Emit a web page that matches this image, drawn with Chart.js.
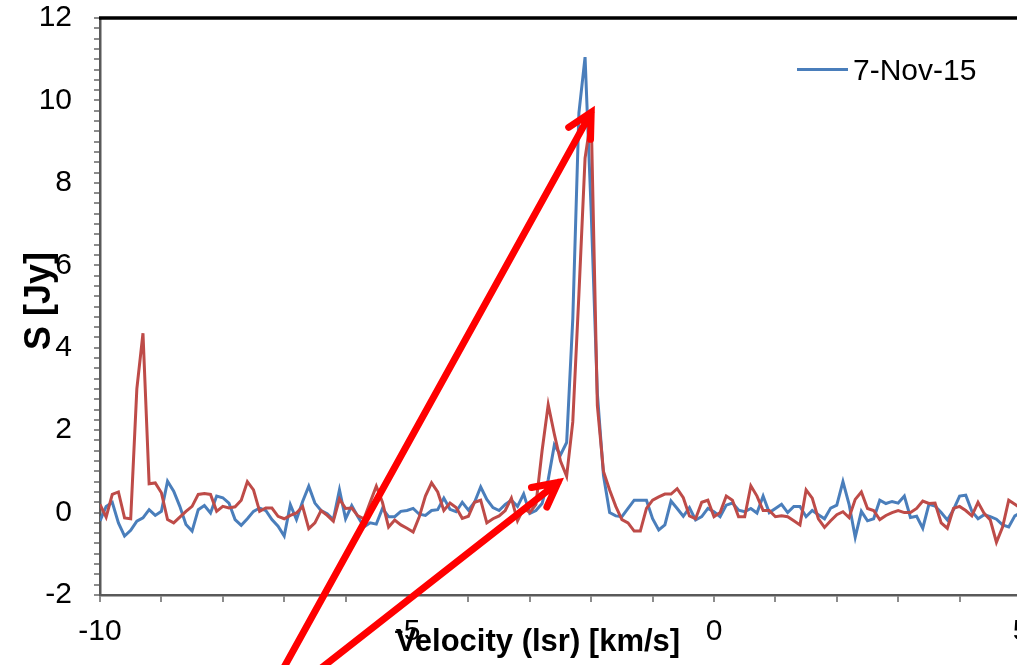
<!DOCTYPE html>
<html>
<head>
<meta charset="utf-8">
<script src="https://cdn.jsdelivr.net/npm/chart.js@4.4.1/dist/chart.umd.min.js"></script>
<style>
  html, body { margin: 0; padding: 0; overflow: hidden; background: #fff; }
  #wrap { width: 1040px; height: 665px; }
</style>
</head>
<body>
<div id="wrap"><canvas id="spec" width="1040" height="665"></canvas></div>
<script>
// velocity channels (km/s)
const velocity = [
  -10.0, -9.9, -9.8, -9.7, -9.6, -9.5, -9.4, -9.3, -9.2, -9.1,
  -9.0, -8.9, -8.8, -8.7, -8.6, -8.5, -8.4, -8.3, -8.2, -8.1,
  -8.0, -7.9, -7.8, -7.7, -7.6, -7.5, -7.4, -7.3, -7.2, -7.1,
  -7.0, -6.9, -6.8, -6.7, -6.6, -6.5, -6.4, -6.3, -6.2, -6.1,
  -6.0, -5.9, -5.8, -5.7, -5.6, -5.5, -5.4, -5.3, -5.2, -5.1,
  -5.0, -4.9, -4.8, -4.7, -4.6, -4.5, -4.4, -4.3, -4.2, -4.1,
  -4.0, -3.9, -3.8, -3.7, -3.6, -3.5, -3.4, -3.3, -3.2, -3.1,
  -3.0, -2.9, -2.8, -2.7, -2.6, -2.5, -2.4, -2.3, -2.2, -2.1,
  -2.0, -1.9, -1.8, -1.7, -1.6, -1.5, -1.4, -1.3, -1.2, -1.1,
  -1.0, -0.9, -0.8, -0.7, -0.6, -0.5, -0.4, -0.3, -0.2, -0.1,
  0.0, 0.1, 0.2, 0.3, 0.4, 0.5, 0.6, 0.7, 0.8, 0.9,
  1.0, 1.1, 1.2, 1.3, 1.4, 1.5, 1.6, 1.7, 1.8, 1.9,
  2.0, 2.1, 2.2, 2.3, 2.4, 2.5, 2.6, 2.7, 2.8, 2.9,
  3.0, 3.1, 3.2, 3.3, 3.4, 3.5, 3.6, 3.7, 3.8, 3.9,
  4.0, 4.1, 4.2, 4.3, 4.4, 4.5, 4.6, 4.7, 4.8, 4.9,
  5.0
];

// flux density (Jy), 7-Nov-15
const fluxNov = [
  -0.2, 0.15, 0.25, -0.25, -0.57, -0.43, -0.21, -0.13, 0.07, -0.07,
  0.03, 0.76, 0.52, 0.15, -0.29, -0.45, 0.07, 0.17, -0.01, 0.4,
  0.36, 0.23, -0.17, -0.31, -0.15, 0.03, 0.11, 0.05, -0.17, -0.33,
  -0.57, 0.19, -0.17, 0.27, 0.64, 0.23, 0.05, -0.03, -0.17, 0.55,
  -0.15, 0.17, -0.1, -0.35, -0.25, -0.28, 0.1, -0.1, -0.1, 0.03,
  0.05, 0.1, -0.04, -0.07, 0.05, 0.07, 0.35, 0.08, 0.02, 0.25,
  0.06, 0.25, 0.62, 0.32, 0.12, 0.05, 0.2, 0.3, 0.15, 0.45,
  -0.02, 0.05, 0.22, 0.8, 1.64, 1.4, 1.7, 4.7, 9.7, 11.05,
  7.3, 2.9, 0.9, 0.0, -0.08, -0.1, 0.1, 0.3, 0.3, 0.3,
  -0.15, -0.42, -0.3, 0.28, 0.1, -0.09, 0.12, -0.18, -0.1, 0.1,
  0.02, -0.1, 0.18, 0.23, 0.06, 0.02, 0.1, -0.01, 0.4, 0.0,
  0.1, 0.2, 0.0, 0.15, 0.15, -0.1, 0.05, -0.05, -0.15, 0.11,
  0.18, 0.75, 0.2, -0.6, 0.03, -0.2, -0.15, 0.3, 0.22, 0.27,
  0.23, 0.4, -0.12, -0.09, -0.38, 0.2, 0.16, 0.0, -0.18, 0.07,
  0.4, 0.42, 0.03, -0.15, -0.05, -0.1, -0.16, -0.3, -0.35, -0.08,
  0.0
];

// flux density (Jy), second epoch (red)
const fluxOther = [
  0.2, -0.11, 0.44, 0.5, -0.13, -0.15, 3.0, 4.35, 0.7, 0.72,
  0.48, -0.17, -0.25, -0.11, 0.03, 0.15, 0.44, 0.46, 0.44, 0.03,
  0.15, 0.11, 0.14, 0.3, 0.75, 0.55, 0.03, 0.11, 0.11, -0.09,
  -0.15, -0.07, -0.01, 0.15, -0.39, -0.25, 0.05, -0.07, -0.21, 0.33,
  0.1, 0.11, -0.08, -0.15, 0.25, 0.64, 0.25, -0.35, -0.18, -0.3,
  -0.38, -0.47, -0.1, 0.4, 0.72, 0.5, 0.05, 0.23, 0.12, -0.14,
  -0.09, 0.25, 0.3, -0.25, -0.15, -0.08, 0.05, 0.35, -0.2, 0.1,
  0.0, 0.2, 1.5, 2.62, 1.9, 1.25, 0.88, 2.2, 5.3, 8.6,
  9.6, 2.6, 1.0, 0.55, 0.15, -0.17, -0.25, -0.45, -0.45, 0.1,
  0.3, 0.38, 0.45, 0.45, 0.58, 0.36, -0.08, -0.15, 0.25, 0.3,
  -0.1, 0.0, 0.4, 0.3, -0.1, -0.1, 0.65, 0.4, 0.05, 0.05,
  -0.1, -0.08, -0.1, -0.2, -0.3, 0.55, 0.35, -0.15, -0.36, -0.2,
  -0.05, 0.02, -0.12, 0.32, 0.5, 0.1, 0.05, -0.17, -0.07, 0.0,
  0.05, 0.0, 0.0, 0.1, 0.28, 0.22, 0.23, -0.25, -0.38, 0.1,
  0.15, 0.05, -0.08, 0.25, -0.02, -0.18, -0.72, -0.35, 0.3, 0.2,
  0.1
];

const legendLabel = '7-Nov-15';
const xTitle = 'Velocity (lsr) [km/s]';
const yTitle = 'S [Jy]';

// red annotation arrows, tail -> tip, in data units
const arrows = [
  { from: [-7.02, -3.8], to: [-2.0, 9.71] },
  { from: [-6.42, -3.8], to: [-2.54, 0.73] }
];

const BLUE = '#4a7ebb';
const RED = '#be4b48';
const FONT = '"Liberation Sans", Arial, sans-serif';

Chart.defaults.font.family = FONT;
Chart.defaults.color = '#000';

function pts(ys) {
  return velocity.map((v, i) => ({ x: v, y: ys[i] }));
}

const decor = {
  id: 'decor',
  afterDraw(chart) {
    const { ctx, chartArea: a, scales: { x, y } } = chart;
    ctx.save();

    // black top edge of plot area
    ctx.strokeStyle = '#000';
    ctx.lineWidth = 3.5;
    ctx.beginPath();
    ctx.moveTo(a.left - 1, a.top);
    ctx.lineTo(chart.width, a.top);
    ctx.stroke();

    // legend
    ctx.strokeStyle = BLUE;
    ctx.lineWidth = 3;
    ctx.beginPath();
    ctx.moveTo(797, 69.5);
    ctx.lineTo(848, 69.5);
    ctx.stroke();
    ctx.fillStyle = '#000';
    ctx.font = '30px ' + FONT;
    ctx.textAlign = 'left';
    ctx.textBaseline = 'alphabetic';
    ctx.fillText(legendLabel, 853, 80);

    // axis titles
    ctx.font = 'bold 31px ' + FONT;
    ctx.textAlign = 'center';
    ctx.fillText(xTitle, 538, 651);
    ctx.save();
    ctx.translate(50, 301);
    ctx.rotate(-Math.PI / 2);
    ctx.font = 'bold 36px ' + FONT;
    ctx.fillText(yTitle, 0, 0);
    ctx.restore();

    // arrows
    ctx.strokeStyle = '#ff0000';
    ctx.lineWidth = 7;
    ctx.lineCap = 'round';
    arrows.forEach(ar => {
      const x0 = x.getPixelForValue(ar.from[0]), y0 = y.getPixelForValue(ar.from[1]);
      const x1 = x.getPixelForValue(ar.to[0]), y1 = y.getPixelForValue(ar.to[1]);
      const ang = Math.atan2(y0 - y1, x0 - x1);
      const len = 27, spread = 0.48;
      ctx.beginPath();
      ctx.moveTo(x0, y0);
      ctx.lineTo(x1, y1);
      ctx.moveTo(x1 + len * Math.cos(ang - spread), y1 + len * Math.sin(ang - spread));
      ctx.lineTo(x1, y1);
      ctx.lineTo(x1 + len * Math.cos(ang + spread), y1 + len * Math.sin(ang + spread));
      ctx.stroke();
    });
    ctx.restore();
  }
};

new Chart(document.getElementById('spec').getContext('2d'), {
  type: 'line',
  data: {
    datasets: [
      { label: legendLabel, data: pts(fluxNov), borderColor: BLUE, borderWidth: 3,
        pointRadius: 0, tension: 0, fill: false, order: 1 },
      { label: 'other', data: pts(fluxOther), borderColor: RED, borderWidth: 3,
        pointRadius: 0, tension: 0, fill: false, order: 0 }
    ]
  },
  options: {
    responsive: false,
    animation: false,
    layout: { padding: { top: 18, right: 19, left: 0, bottom: 0 } },
    plugins: { legend: { display: false }, tooltip: { enabled: false } },
    scales: {
      x: {
        type: 'linear', min: -10, max: 5,
        afterFit: s => { s.height = 70; s.paddingLeft = 0; s.paddingRight = 0; },
        border: { display: true, color: '#595959', width: 2.5 },
        grid: { drawOnChartArea: false, drawTicks: true, tickLength: 7, color: '#8c8c8c', lineWidth: 2 },
        ticks: {
          stepSize: 1, autoSkip: false, maxRotation: 0, padding: 12,
          font: { size: 30 },
          callback: v => (Math.abs(v % 5) < 1e-9 ? String(v) : '')
        }
      },
      y: {
        min: -2, max: 12,
        afterFit: s => { s.width = 100; s.paddingTop = 0; s.paddingBottom = 0; },
        border: { display: true, color: '#595959', width: 2.5 },
        grid: { drawOnChartArea: false, drawTicks: true, tickLength: 6, color: '#8c8c8c', lineWidth: 2 },
        ticks: {
          stepSize: 0.25, autoSkip: false, padding: 22,
          font: { size: 30 },
          callback: v => (Math.abs(v % 2) < 1e-9 ? String(v) : '')
        }
      }
    }
  },
  plugins: [decor]
});
</script>
</body>
</html>
